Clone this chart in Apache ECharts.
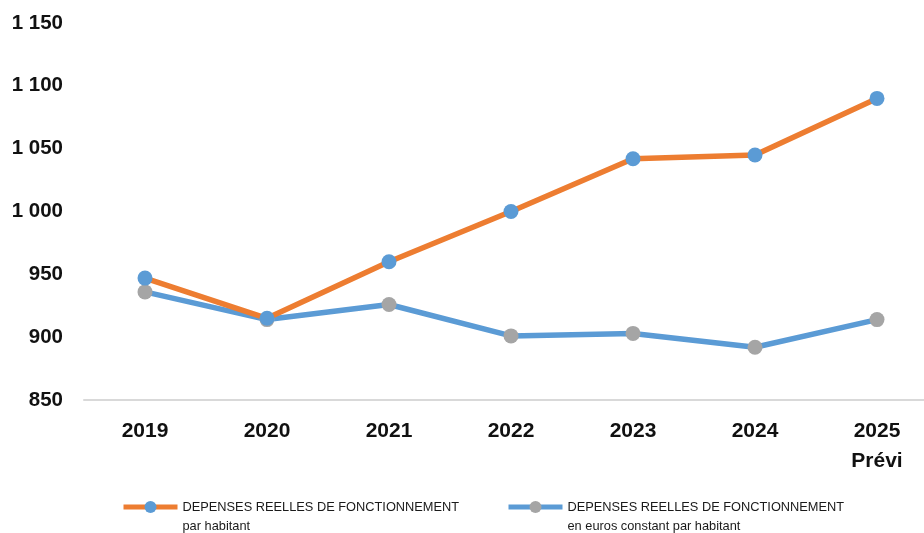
<!DOCTYPE html>
<html>
<head>
<meta charset="utf-8">
<script src="https://cdn.jsdelivr.net/npm/echarts@6/dist/echarts.min.js"></script>
<style>
  html, body { margin: 0; padding: 0; background: #fff; }
  #chart { width: 924px; height: 533px; }
</style>
</head>
<body>
<div id="chart"></div>
<script>
// Dépenses réelles de fonctionnement par habitant (€)
const years = ['2019', '2020', '2021', '2022', '2023', '2024', '2025\nPrévi'];
const depensesParHabitant = [947, 915, 960, 1000, 1042, 1045, 1090];
const depensesEurosConstants = [936, 914, 926, 901, 903, 892, 914];
const serieNames = [
  'DEPENSES REELLES DE FONCTIONNEMENT\npar habitant',
  'DEPENSES REELLES DE FONCTIONNEMENT\nen euros constant par habitant'
];

const chart = echarts.init(document.getElementById('chart'));

// a blank first line keeps the icon level with the first text line
const legendCommon = {
  top: 478.5, itemWidth: 54, itemHeight: 15, padding: 0,
  formatter: name => ' \n' + name,
  textStyle: {
    fontFamily: '"Liberation Sans", Arial, sans-serif',
    fontSize: 12.8,
    color: '#1a1a1a',
    lineHeight: 19
  },
  lineStyle: { width: 5 }
};

chart.setOption({
  animation: false,
  backgroundColor: '#ffffff',
  grid: { left: 84, width: 854, top: 23, bottom: 133, containLabel: false, outerBoundsMode: 'none' },
  legend: [
    Object.assign({ data: [serieNames[0]], left: 121 }, legendCommon),
    Object.assign({ data: [serieNames[1]], left: 506 }, legendCommon)
  ],
  xAxis: {
    type: 'category',
    data: years,
    boundaryGap: true,
    axisLine: { lineStyle: { color: '#d9d9d9', width: 2 } },
    axisTick: { show: false },
    axisLabel: {
      fontFamily: '"Liberation Sans", Arial, sans-serif',
      fontWeight: 'bold',
      fontSize: 21,
      color: '#111',
      lineHeight: 30,
      margin: 16
    }
  },
  yAxis: {
    type: 'value',
    min: 850,
    max: 1150,
    interval: 50,
    splitLine: { show: false },
    axisLine: { show: false },
    axisTick: { show: false },
    axisLabel: {
      fontFamily: '"Liberation Sans", Arial, sans-serif',
      fontWeight: 'bold',
      fontSize: 20.5,
      color: '#111',
      margin: 21,
      formatter: v => v >= 1000 ? Math.floor(v / 1000) + ' ' + String(v % 1000).padStart(3, '0') : String(v)
    }
  },
  series: [
    {
      name: serieNames[0],
      type: 'line',
      data: depensesParHabitant,
      symbol: 'circle',
      symbolSize: 15,
      lineStyle: { color: '#ED7D31', width: 5.5 },
      itemStyle: { color: '#5B9BD5' },
      z: 3
    },
    {
      name: serieNames[1],
      type: 'line',
      data: depensesEurosConstants,
      symbol: 'circle',
      symbolSize: 15,
      lineStyle: { color: '#5B9BD5', width: 5.5 },
      itemStyle: { color: '#A5A5A5' },
      z: 2
    }
  ]
});
</script>
</body>
</html>
